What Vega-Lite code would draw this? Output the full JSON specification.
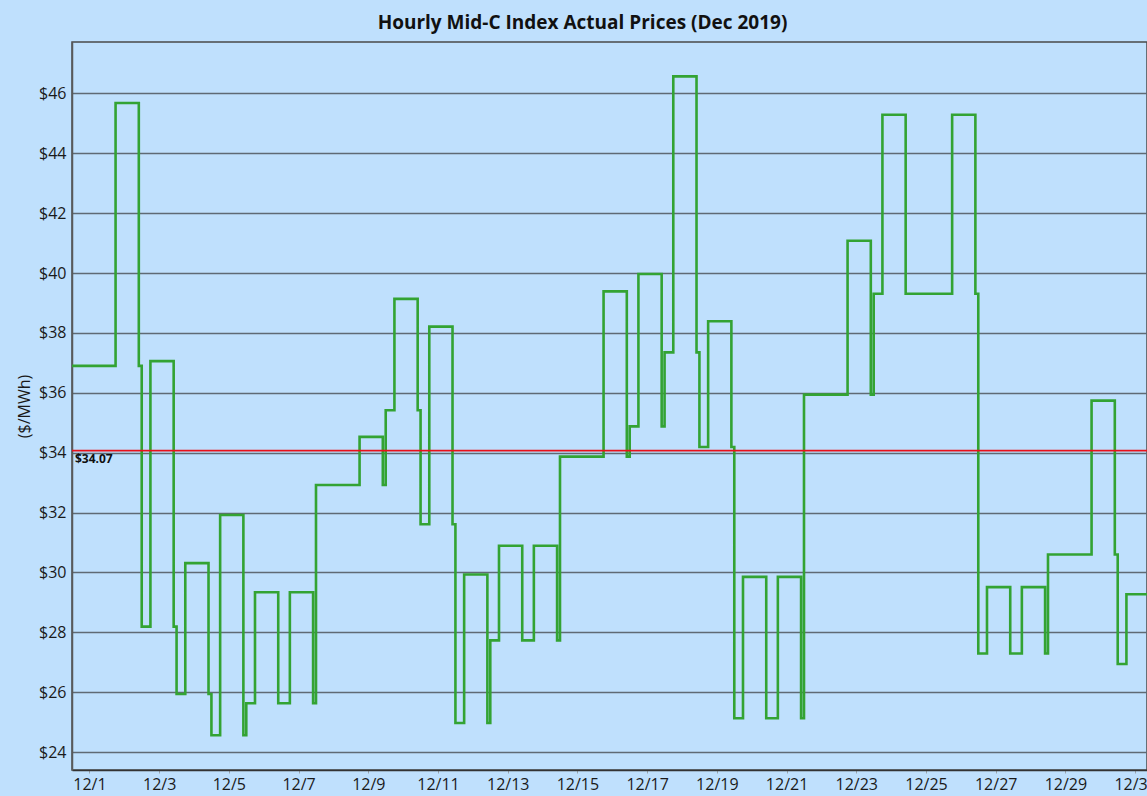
{
  "$schema": "https://vega.github.io/schema/vega-lite/v6.json",
  "width": 1075,
  "height": 728,
  "autosize": {"type": "none"},
  "padding": {"left": 72, "top": 42, "right": 0, "bottom": 26},
  "background": "#BFE0FD",
  "title": {
    "text": "Hourly Mid-C Index Actual Prices (Dec 2019)",
    "font": "Open Sans",
    "fontSize": 19,
    "fontWeight": "bold",
    "color": "#111111",
    "anchor": "middle",
    "dx": -27,
    "offset": 9
  },
  "config": {
    "view": {"stroke": "#4a4a4a", "strokeWidth": 1.5},
    "axis": {
      "labelFont": "Open Sans",
      "labelFontSize": 16,
      "labelColor": "#1a1a1a",
      "titleFont": "Open Sans",
      "titleFontSize": 16,
      "titleFontWeight": "normal",
      "titleColor": "#1a1a1a"
    }
  },
  "datasets": {
    "prices": [
      {"time": "2019-12-01T00:00", "price": 36.9},
      {"time": "2019-12-02T06:00", "price": 45.68},
      {"time": "2019-12-02T22:00", "price": 36.9},
      {"time": "2019-12-03T00:00", "price": 28.19},
      {"time": "2019-12-03T06:00", "price": 37.06},
      {"time": "2019-12-03T22:00", "price": 28.19},
      {"time": "2019-12-04T00:00", "price": 25.94},
      {"time": "2019-12-04T06:00", "price": 30.31},
      {"time": "2019-12-04T22:00", "price": 25.94},
      {"time": "2019-12-05T00:00", "price": 24.56},
      {"time": "2019-12-05T06:00", "price": 31.92},
      {"time": "2019-12-05T22:00", "price": 24.56},
      {"time": "2019-12-06T00:00", "price": 25.63},
      {"time": "2019-12-06T06:00", "price": 29.34},
      {"time": "2019-12-06T22:00", "price": 25.63},
      {"time": "2019-12-07T00:00", "price": 25.63},
      {"time": "2019-12-07T06:00", "price": 29.34},
      {"time": "2019-12-07T22:00", "price": 25.63},
      {"time": "2019-12-08T00:00", "price": 32.92},
      {"time": "2019-12-09T06:00", "price": 34.53},
      {"time": "2019-12-09T22:00", "price": 32.92},
      {"time": "2019-12-10T00:00", "price": 35.42},
      {"time": "2019-12-10T06:00", "price": 39.14},
      {"time": "2019-12-10T22:00", "price": 35.42},
      {"time": "2019-12-11T00:00", "price": 31.61},
      {"time": "2019-12-11T06:00", "price": 38.21},
      {"time": "2019-12-11T22:00", "price": 31.61},
      {"time": "2019-12-12T00:00", "price": 24.97},
      {"time": "2019-12-12T06:00", "price": 29.93},
      {"time": "2019-12-12T22:00", "price": 24.97},
      {"time": "2019-12-13T00:00", "price": 27.73},
      {"time": "2019-12-13T06:00", "price": 30.89},
      {"time": "2019-12-13T22:00", "price": 27.73},
      {"time": "2019-12-14T00:00", "price": 27.73},
      {"time": "2019-12-14T06:00", "price": 30.89},
      {"time": "2019-12-14T22:00", "price": 27.73},
      {"time": "2019-12-15T00:00", "price": 33.87},
      {"time": "2019-12-16T06:00", "price": 39.39},
      {"time": "2019-12-16T22:00", "price": 33.87},
      {"time": "2019-12-17T00:00", "price": 34.88},
      {"time": "2019-12-17T06:00", "price": 39.97},
      {"time": "2019-12-17T22:00", "price": 34.88},
      {"time": "2019-12-18T00:00", "price": 37.35},
      {"time": "2019-12-18T06:00", "price": 46.57},
      {"time": "2019-12-18T22:00", "price": 37.35},
      {"time": "2019-12-19T00:00", "price": 34.19},
      {"time": "2019-12-19T06:00", "price": 38.39},
      {"time": "2019-12-19T22:00", "price": 34.19},
      {"time": "2019-12-20T00:00", "price": 25.13},
      {"time": "2019-12-20T06:00", "price": 29.85},
      {"time": "2019-12-20T22:00", "price": 25.13},
      {"time": "2019-12-21T00:00", "price": 25.13},
      {"time": "2019-12-21T06:00", "price": 29.85},
      {"time": "2019-12-21T22:00", "price": 25.13},
      {"time": "2019-12-22T00:00", "price": 35.94},
      {"time": "2019-12-23T06:00", "price": 41.08},
      {"time": "2019-12-23T22:00", "price": 35.94},
      {"time": "2019-12-24T00:00", "price": 39.31},
      {"time": "2019-12-24T06:00", "price": 45.29},
      {"time": "2019-12-24T22:00", "price": 39.31},
      {"time": "2019-12-26T06:00", "price": 45.29},
      {"time": "2019-12-26T22:00", "price": 39.31},
      {"time": "2019-12-27T00:00", "price": 27.29},
      {"time": "2019-12-27T06:00", "price": 29.51},
      {"time": "2019-12-27T22:00", "price": 27.29},
      {"time": "2019-12-28T00:00", "price": 27.29},
      {"time": "2019-12-28T06:00", "price": 29.51},
      {"time": "2019-12-28T22:00", "price": 27.29},
      {"time": "2019-12-29T00:00", "price": 30.6},
      {"time": "2019-12-30T06:00", "price": 35.74},
      {"time": "2019-12-30T22:00", "price": 30.6},
      {"time": "2019-12-31T00:00", "price": 26.94},
      {"time": "2019-12-31T06:00", "price": 29.27},
      {"time": "2020-01-01T00:00", "price": 29.27}
    ],
    "average": [
      {"time": "2019-12-01T00:00", "avg": 34.07, "label": "$34.07"}
    ]
  },
  "layer": [
    {
      "data": {"name": "prices"},
      "mark": {"type": "line", "interpolate": "step-after", "color": "#33A333", "strokeWidth": 2.6, "clip": true},
      "encoding": {
        "x": {
          "field": "time",
          "type": "temporal",
          "scale": {
            "domain": [
              {"year": 2019, "month": 12, "date": 1, "hours": 0},
              {"year": 2019, "month": 12, "date": 31, "hours": 20, "minutes": 10}
            ],
            "nice": false
          },
          "axis": {
            "title": null,
            "grid": false,
            "values": [
              {"year": 2019, "month": 12, "date": 1, "hours": 12},
              {"year": 2019, "month": 12, "date": 2, "hours": 12},
              {"year": 2019, "month": 12, "date": 3, "hours": 12},
              {"year": 2019, "month": 12, "date": 4, "hours": 12},
              {"year": 2019, "month": 12, "date": 5, "hours": 12},
              {"year": 2019, "month": 12, "date": 6, "hours": 12},
              {"year": 2019, "month": 12, "date": 7, "hours": 12},
              {"year": 2019, "month": 12, "date": 8, "hours": 12},
              {"year": 2019, "month": 12, "date": 9, "hours": 12},
              {"year": 2019, "month": 12, "date": 10, "hours": 12},
              {"year": 2019, "month": 12, "date": 11, "hours": 12},
              {"year": 2019, "month": 12, "date": 12, "hours": 12},
              {"year": 2019, "month": 12, "date": 13, "hours": 12},
              {"year": 2019, "month": 12, "date": 14, "hours": 12},
              {"year": 2019, "month": 12, "date": 15, "hours": 12},
              {"year": 2019, "month": 12, "date": 16, "hours": 12},
              {"year": 2019, "month": 12, "date": 17, "hours": 12},
              {"year": 2019, "month": 12, "date": 18, "hours": 12},
              {"year": 2019, "month": 12, "date": 19, "hours": 12},
              {"year": 2019, "month": 12, "date": 20, "hours": 12},
              {"year": 2019, "month": 12, "date": 21, "hours": 12},
              {"year": 2019, "month": 12, "date": 22, "hours": 12},
              {"year": 2019, "month": 12, "date": 23, "hours": 12},
              {"year": 2019, "month": 12, "date": 24, "hours": 12},
              {"year": 2019, "month": 12, "date": 25, "hours": 12},
              {"year": 2019, "month": 12, "date": 26, "hours": 12},
              {"year": 2019, "month": 12, "date": 27, "hours": 12},
              {"year": 2019, "month": 12, "date": 28, "hours": 12},
              {"year": 2019, "month": 12, "date": 29, "hours": 12},
              {"year": 2019, "month": 12, "date": 30, "hours": 12},
              {"year": 2019, "month": 12, "date": 31, "hours": 12}
            ],
            "labelExpr": "date(datum.value) % 2 == 1 ? (month(datum.value) + 1) + '/' + date(datum.value) : ''",
            "labelOverlap": false,
            "labelFlush": false,
            "tickSize": 3,
            "tickColor": "#9aa4ae",
            "labelPadding": 3,
            "domainColor": "#333333",
            "domainWidth": 1.5
          }
        },
        "y": {
          "field": "price",
          "type": "quantitative",
          "scale": {"domain": [23.4, 47.72], "nice": false, "zero": false},
          "axis": {
            "title": "($/MWh)",
            "values": [24, 26, 28, 30, 32, 34, 36, 38, 40, 42, 44, 46],
            "format": "$.0f",
            "grid": true,
            "gridColor": "#5f6a74",
            "gridWidth": 1.3,
            "tickSize": 0,
            "labelPadding": 6,
            "titlePadding": 6,
            "domainColor": "#5a5a5a",
            "domainWidth": 1.5
          }
        }
      }
    },
    {
      "data": {"name": "average"},
      "mark": {"type": "rule", "color": "#E8101A", "strokeWidth": 1.6},
      "encoding": {
        "y": {"field": "avg", "type": "quantitative"}
      }
    },
    {
      "data": {"name": "average"},
      "mark": {"type": "text", "align": "left", "baseline": "top", "dx": 3, "dy": 3, "font": "Open Sans", "fontSize": 12, "fontWeight": "bold", "color": "#111111"},
      "encoding": {
        "x": {"field": "time", "type": "temporal"},
        "y": {"field": "avg", "type": "quantitative"},
        "text": {"field": "label"}
      }
    }
  ]
}
